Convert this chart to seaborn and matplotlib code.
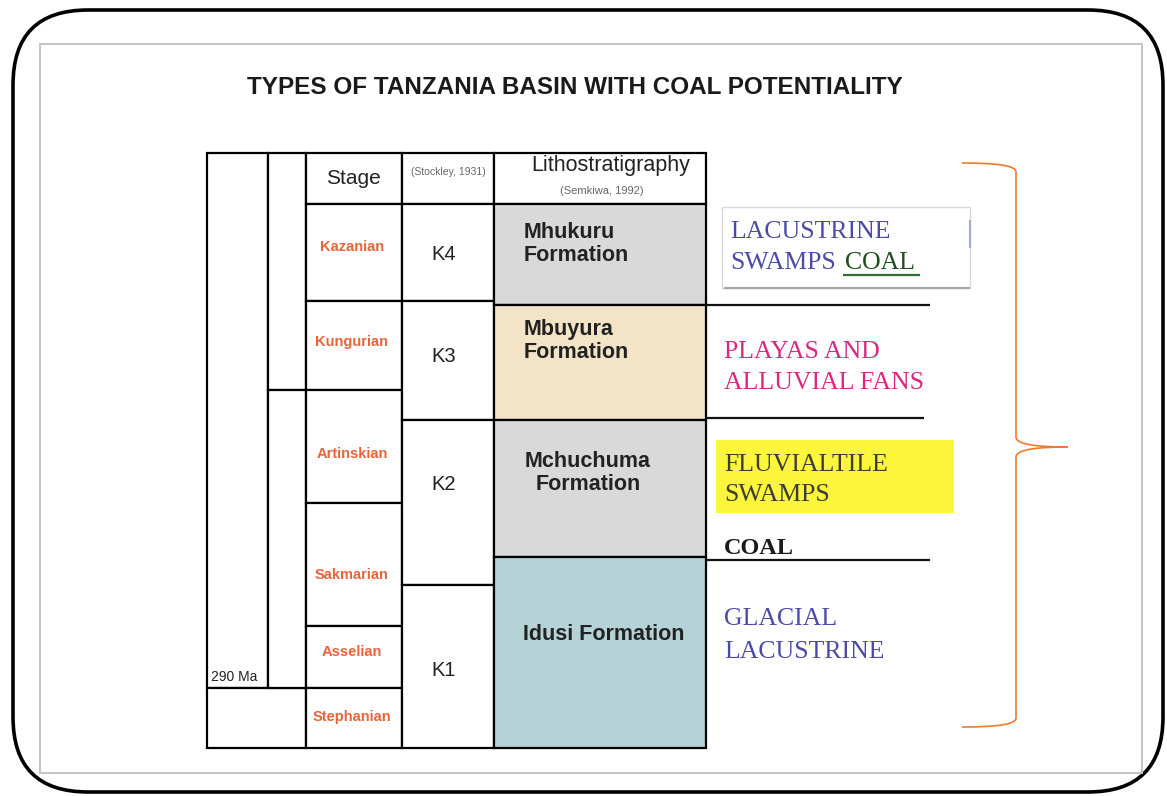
import matplotlib
matplotlib.use("Agg")
import matplotlib.pyplot as plt
import seaborn as sns
from matplotlib.patches import FancyBboxPatch, Rectangle, PathPatch
from matplotlib.path import Path

sns.set_theme(style="white")
plt.rcParams["font.family"] = ["Liberation Sans", "DejaVu Sans"]

TITLE = "TYPES OF TANZANIA BASIN WITH COAL POTENTIALITY"

# stage column (pixel depth of each cell boundary, top -> bottom)
stage_names = ["Kazanian", "Kungurian", "Artinskian", "Sakmarian", "Asselian", "Stephanian"]
stage_bounds = [204, 301, 390, 503, 626, 688, 748]
stage_label_y = [247, 342, 454, 575, 652, 717]

# Stockley (1931) units
k_names = ["K4", "K3", "K2", "K1"]
k_bounds = [204, 301, 420, 585, 748]
k_label_y = [255, 357, 485, 670]

# lithostratigraphy (Semkiwa, 1992)
formation_names = ["Mhukuru\nFormation", "Mbuyura\nFormation",
                   "Mchuchuma\nFormation", "Idusi Formation"]
formation_bounds = [204, 305, 420, 557, 748]
formation_colors = ["#d9d9d9", "#f3e4c8", "#d9d9d9", "#b5d3d6"]

# columns: left edge, right edge
col_edges = [207, 268, 306, 402, 494, 706]

fig = plt.figure(figsize=(11.67, 7.96), dpi=100)
ax = fig.add_axes([0, 0, 1, 1])
ax.set_xlim(0, 1167)
ax.set_ylim(796, 0)
ax.axis("off")

# outer rounded frame + inner grey frame
ax.add_patch(FancyBboxPatch((13, 10), 1150, 782,
                            boxstyle="round,pad=0,rounding_size=75",
                            fc="white", ec="black", lw=2.6, zorder=0))
ax.add_patch(Rectangle((40, 44), 1102, 729, fc="white", ec="#c4c4c4", lw=1.4, zorder=1))

ax.text(575, 88, TITLE, ha="center", va="center", fontsize=17.5,
        fontweight="bold", color="#1a1a1a")

LW = 1.6


def column(x0, x1, bounds, colors=None):
    heights = [b - t for t, b in zip(bounds[:-1], bounds[1:])]
    fc = colors if colors else ["white"] * len(heights)
    ax.bar([(x0 + x1) / 2] * len(heights), heights, bottom=bounds[:-1],
           width=x1 - x0, color=fc, edgecolor="black", linewidth=LW, zorder=3)


# age columns on the left
column(col_edges[0], col_edges[1], [153, 688])
column(col_edges[0], col_edges[2], [688, 748])
column(col_edges[1], col_edges[2], [153, 390, 688])
# header cells
column(col_edges[2], col_edges[3], [153, 204])
column(col_edges[3], col_edges[4], [153, 204])
column(col_edges[4], col_edges[5], [153, 204])
# body
column(col_edges[2], col_edges[3], stage_bounds)
column(col_edges[3], col_edges[4], k_bounds)
column(col_edges[4], col_edges[5], formation_bounds, formation_colors)

# header text
ax.text(353, 179, "Stage", ha="center", va="center", fontsize=15, color="#222222", zorder=5)
ax.text(448, 172, "(Stockley, 1931)", ha="center", va="center", fontsize=7.5,
        color="#666666", zorder=5, clip_on=True)
ax.text(611, 166, "Lithostratigraphy", ha="center", va="center", fontsize=15.5, color="#222222", zorder=5)
ax.text(602, 191, "(Semkiwa, 1992)", ha="center", va="center", fontsize=8, color="#666666", zorder=5)
ax.text(211, 677, "290 Ma", ha="left", va="center", fontsize=10, color="#222222", zorder=5)

for name, y in zip(stage_names, stage_label_y):
    ax.text(352, y, name, ha="center", va="center", fontsize=10.5,
            fontweight="bold", color="#e8643c", zorder=5)
for name, y in zip(k_names, k_label_y):
    ax.text(444, y, name, ha="center", va="center", fontsize=14.5, color="#222222", zorder=5)

form_pos = [(524, 244, "left"), (524, 341, "left"), (588, 473, "center"), (604, 634, "center")]
for name, (x, y, ha) in zip(formation_names, form_pos):
    ax.text(x, y, name, ha=ha, va="center", fontsize=15.5, fontweight="bold",
            color="#222222", linespacing=1.1, zorder=5)

# divider lines to the right of the table
ax.hlines([305, 418, 560], 706, [930, 924, 930], color="#111111", lw=LW, zorder=4)

# environment boxes
ax.add_patch(Rectangle((722, 207), 248, 81, fc="white", ec="#d8d8d8", lw=1.0, zorder=2))
ax.hlines(288, 724, 970, color="#a8a8a8", lw=1.6, zorder=2)
ax.vlines(970, 220, 248, color="#a0a8c8", lw=1.4, zorder=2)
ax.add_patch(Rectangle((716, 440), 238, 73, fc="#fbf53b", ec="none", zorder=2))

serif = ["Liberation Serif", "DejaVu Serif"]
blue = "#4a4aa8"
env_fs = 18.5
ax.text(730, 232, "LACUSTRINE", family=serif, fontsize=env_fs, color=blue, va="center", zorder=5)
ax.text(730, 263, "SWAMPS", family=serif, fontsize=env_fs, color=blue, va="center", zorder=5)
ax.text(845, 263, "COAL", family=serif, fontsize=env_fs, color="#1f4f1f", va="center", zorder=5)
ax.hlines(275, 843, 920, color="#2f6f2f", lw=1.6, zorder=5)

ax.text(724, 352, "PLAYAS AND", family=serif, fontsize=env_fs, color="#d9287e", va="center", zorder=5)
ax.text(724, 383, "ALLUVIAL FANS", family=serif, fontsize=env_fs, color="#d9287e", va="center", zorder=5)

ax.text(724, 465, "FLUVIALTILE", family=serif, fontsize=env_fs, color="#3c3c30", va="center", zorder=5)
ax.text(724, 495, "SWAMPS", family=serif, fontsize=env_fs, color="#3c3c30", va="center", zorder=5)

ax.text(724, 549, "COAL", family=serif, fontsize=env_fs - 1, fontweight="bold", color="#1a1a1a",
        va="center", zorder=5)

ax.text(724, 619, "GLACIAL", family=serif, fontsize=env_fs, color=blue, va="center", zorder=5)
ax.text(724, 652, "LACUSTRINE", family=serif, fontsize=env_fs, color=blue, va="center", zorder=5)

# orange curly brace
verts = [(962, 163), (1000, 163), (1016, 166), (1016, 172),
         (1016, 437),
         (1016, 445), (1040, 447), (1068, 447),
         (1040, 447), (1016, 449), (1016, 457),
         (1016, 718),
         (1016, 724), (1000, 727), (962, 727)]
codes = [Path.MOVETO, Path.CURVE4, Path.CURVE4, Path.CURVE4,
         Path.LINETO,
         Path.CURVE4, Path.CURVE4, Path.CURVE4,
         Path.CURVE4, Path.CURVE4, Path.CURVE4,
         Path.LINETO,
         Path.CURVE4, Path.CURVE4, Path.CURVE4]
ax.add_patch(PathPatch(Path(verts, codes), fc="none", ec="#ee7a30", lw=1.2, zorder=5))

fig.savefig("out.png", dpi=100)
